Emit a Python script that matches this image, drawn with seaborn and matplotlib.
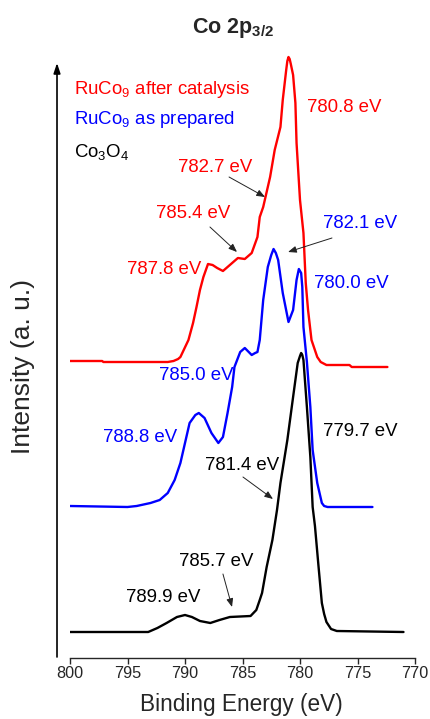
import matplotlib
matplotlib.use("Agg")
import matplotlib.pyplot as plt
import seaborn as sns
import pandas as pd

# ---------------- data ----------------
red_E = [800.0, 797.2, 797.1, 791.5, 791.0, 790.6, 790.4, 789.7, 789.3, 789.0, 788.7, 788.4,
         788.0, 787.6, 787.2, 786.7, 786.1, 785.4, 784.8, 784.2, 783.7, 783.5, 783.2, 782.6,
         782.2, 781.7, 781.5, 781.2, 781.1, 781.0, 780.9, 780.8, 780.6, 780.4, 780.3, 780.0,
         779.7, 779.5, 779.3, 779.0, 778.5, 778.2, 777.7, 775.7, 775.5, 772.4]
red_I = [297, 297, 296, 296, 297, 299, 301, 318, 335, 351, 368, 381,
         394, 393, 390, 387, 393, 400, 399, 405, 421, 441, 451, 481,
         508, 531, 558, 588, 597, 601, 599, 594, 583, 555, 515, 458,
         425, 375, 348, 318, 301, 296, 293, 293, 291, 291]

blue_E = [800.0, 795.0, 794.2, 793.0, 792.2, 791.5, 790.9, 790.4, 790.0, 789.6, 789.1,
          788.8, 788.3, 787.7, 787.1, 786.7, 786.3, 785.9, 785.7, 785.2, 784.8, 784.2,
          783.9, 783.7, 783.5, 783.2, 782.8, 782.5, 782.3, 782.1, 781.9, 781.5, 781.0, 780.6,
          780.3, 780.1, 779.9, 779.8, 779.7, 779.4, 779.1, 778.9, 778.5, 778.1, 777.9,
          777.6, 773.7]
blue_I = [152, 151, 152, 155, 158, 165, 178, 195, 215, 235, 243,
          245, 240, 225, 215, 221, 245, 271, 291, 306, 310, 303,
          305, 306, 318, 358, 391, 403, 409, 405, 398, 365, 336, 348,
          378, 389, 385, 371, 331, 296, 251, 208, 175, 155, 152,
          151, 151]

black_E = [800.0, 793.2, 792.4, 791.6, 790.7, 790.0, 789.4, 788.7, 787.8, 787.0, 786.1,
           784.3, 783.8, 783.5, 783.3, 782.9, 782.4, 782.0, 781.7, 781.1, 780.6, 780.2,
           780.0, 779.9, 779.8, 779.7, 779.4, 779.1, 778.9, 778.7, 778.4, 778.1, 777.9,
           777.7, 777.3, 776.8, 771.0]
black_I = [26, 26, 30, 35, 41, 43, 41, 37, 35, 38, 41,
           42, 48, 58, 65, 91, 118, 148, 175, 218, 261, 295,
           302, 305, 303, 298, 251, 201, 151, 132, 93, 55, 44,
           36, 29, 27, 26]

series_names = ["RuCo$_9$ after catalysis", "RuCo$_9$ as prepared", "Co$_3$O$_4$"]
series_colors = ["#FF0000", "#0000FF", "#000000"]

x_ticks = [800, 795, 790, 785, 780, 775, 770]

# peak labels
peak_labels = ["780.8 eV", "782.7 eV", "785.4 eV", "787.8 eV",
               "782.1 eV", "780.0 eV", "785.0 eV", "788.8 eV",
               "779.7 eV", "781.4 eV", "785.7 eV", "789.9 eV"]
peak_series = [0, 0, 0, 0, 1, 1, 1, 1, 2, 2, 2, 2]
peak_text_pos = [(776.17, 550), (787.39, 491), (789.30, 444), (791.83, 389),
                 (774.78, 435), (775.57, 374), (789.04, 283), (793.91, 221),
                 (774.78, 226), (785.04, 193), (787.30, 97), (791.91, 60)]
# arrows: (tail, head)
arrows = [((786.17, 481), (783.04, 461)),
          ((787.83, 431), (785.48, 406)),
          ((777.22, 420), (781.04, 406)),
          ((784.96, 181), (782.35, 159)),
          ((786.70, 84), (785.91, 51))]

# ---------------- style ----------------
sns.set_style("ticks")
plt.rcParams["font.family"] = ["Liberation Sans", "DejaVu Sans"]
plt.rcParams["mathtext.fontset"] = "custom"
plt.rcParams["mathtext.rm"] = "Liberation Sans"
plt.rcParams["mathtext.it"] = "Liberation Sans:italic"
plt.rcParams["mathtext.bf"] = "Liberation Sans:bold"

fig = plt.figure(figsize=(4.31, 7.19), dpi=100)
ax = fig.add_axes([70 / 431, 61 / 719, 345 / 431, 618 / 719])

df = pd.concat([
    pd.DataFrame({"E": red_E, "I": red_I, "s": series_names[0]}),
    pd.DataFrame({"E": blue_E, "I": blue_I, "s": series_names[1]}),
    pd.DataFrame({"E": black_E, "I": black_I, "s": series_names[2]}),
])
for name, col in zip(series_names, series_colors):
    sns.lineplot(data=df[df["s"] == name], x="E", y="I", color=col, lw=1.7,
                 estimator=None, sort=False, ax=ax, legend=False)
for ln in ax.lines:
    ln.set_solid_joinstyle("round")

ax.set_xlim(800, 770)
ax.set_ylim(0, 618)
ax.set_xticks(x_ticks)
ax.set_xticklabels([str(t) for t in x_ticks])
ax.set_yticks([])
for sp in ["top", "right", "left"]:
    ax.spines[sp].set_visible(False)
ax.spines["bottom"].set_linewidth(1.0)
ax.tick_params(axis="x", direction="out", length=4, width=1.0, labelsize=11.7, pad=2)

ax.set_xlabel("Binding Energy (eV)", fontsize=16.3)
ax.xaxis.set_label_coords(0.496, -0.057)
ax.set_ylabel("Intensity (a. u.)", fontsize=19)
ax.yaxis.set_label_coords(-0.1, 0.471)

# y-axis arrow
ax.annotate("", xy=(801.13, 595), xytext=(801.13, 1),
            arrowprops=dict(arrowstyle="-|>,head_length=0.6,head_width=0.2", lw=1.2,
                            color="black", shrinkA=0, shrinkB=0, mutation_scale=10),
            annotation_clip=False)

# title
fig.text(233 / 431, 1 - 33 / 719, r"Co 2p$_\mathbf{3/2}$", ha="center", va="baseline",
         fontsize=15.5, fontweight="bold")

# legend texts
legend_y = [569, 538, 506]
for name, col, yy in zip(series_names, series_colors, legend_y):
    ax.text(799.65, yy, name, color=col, fontsize=13.4, ha="left", va="center")

# peak labels
for lab, si, (xx, yy) in zip(peak_labels, peak_series, peak_text_pos):
    ax.text(xx, yy, lab, color=series_colors[si], fontsize=13.4, ha="center", va="center")

for (tail, head) in arrows:
    ax.annotate("", xy=head, xytext=tail,
                arrowprops=dict(arrowstyle="-|>,head_length=0.5,head_width=0.2", lw=0.7,
                                color="#222222", shrinkA=0, shrinkB=0, mutation_scale=10))

fig.savefig("out.png", dpi=100)
